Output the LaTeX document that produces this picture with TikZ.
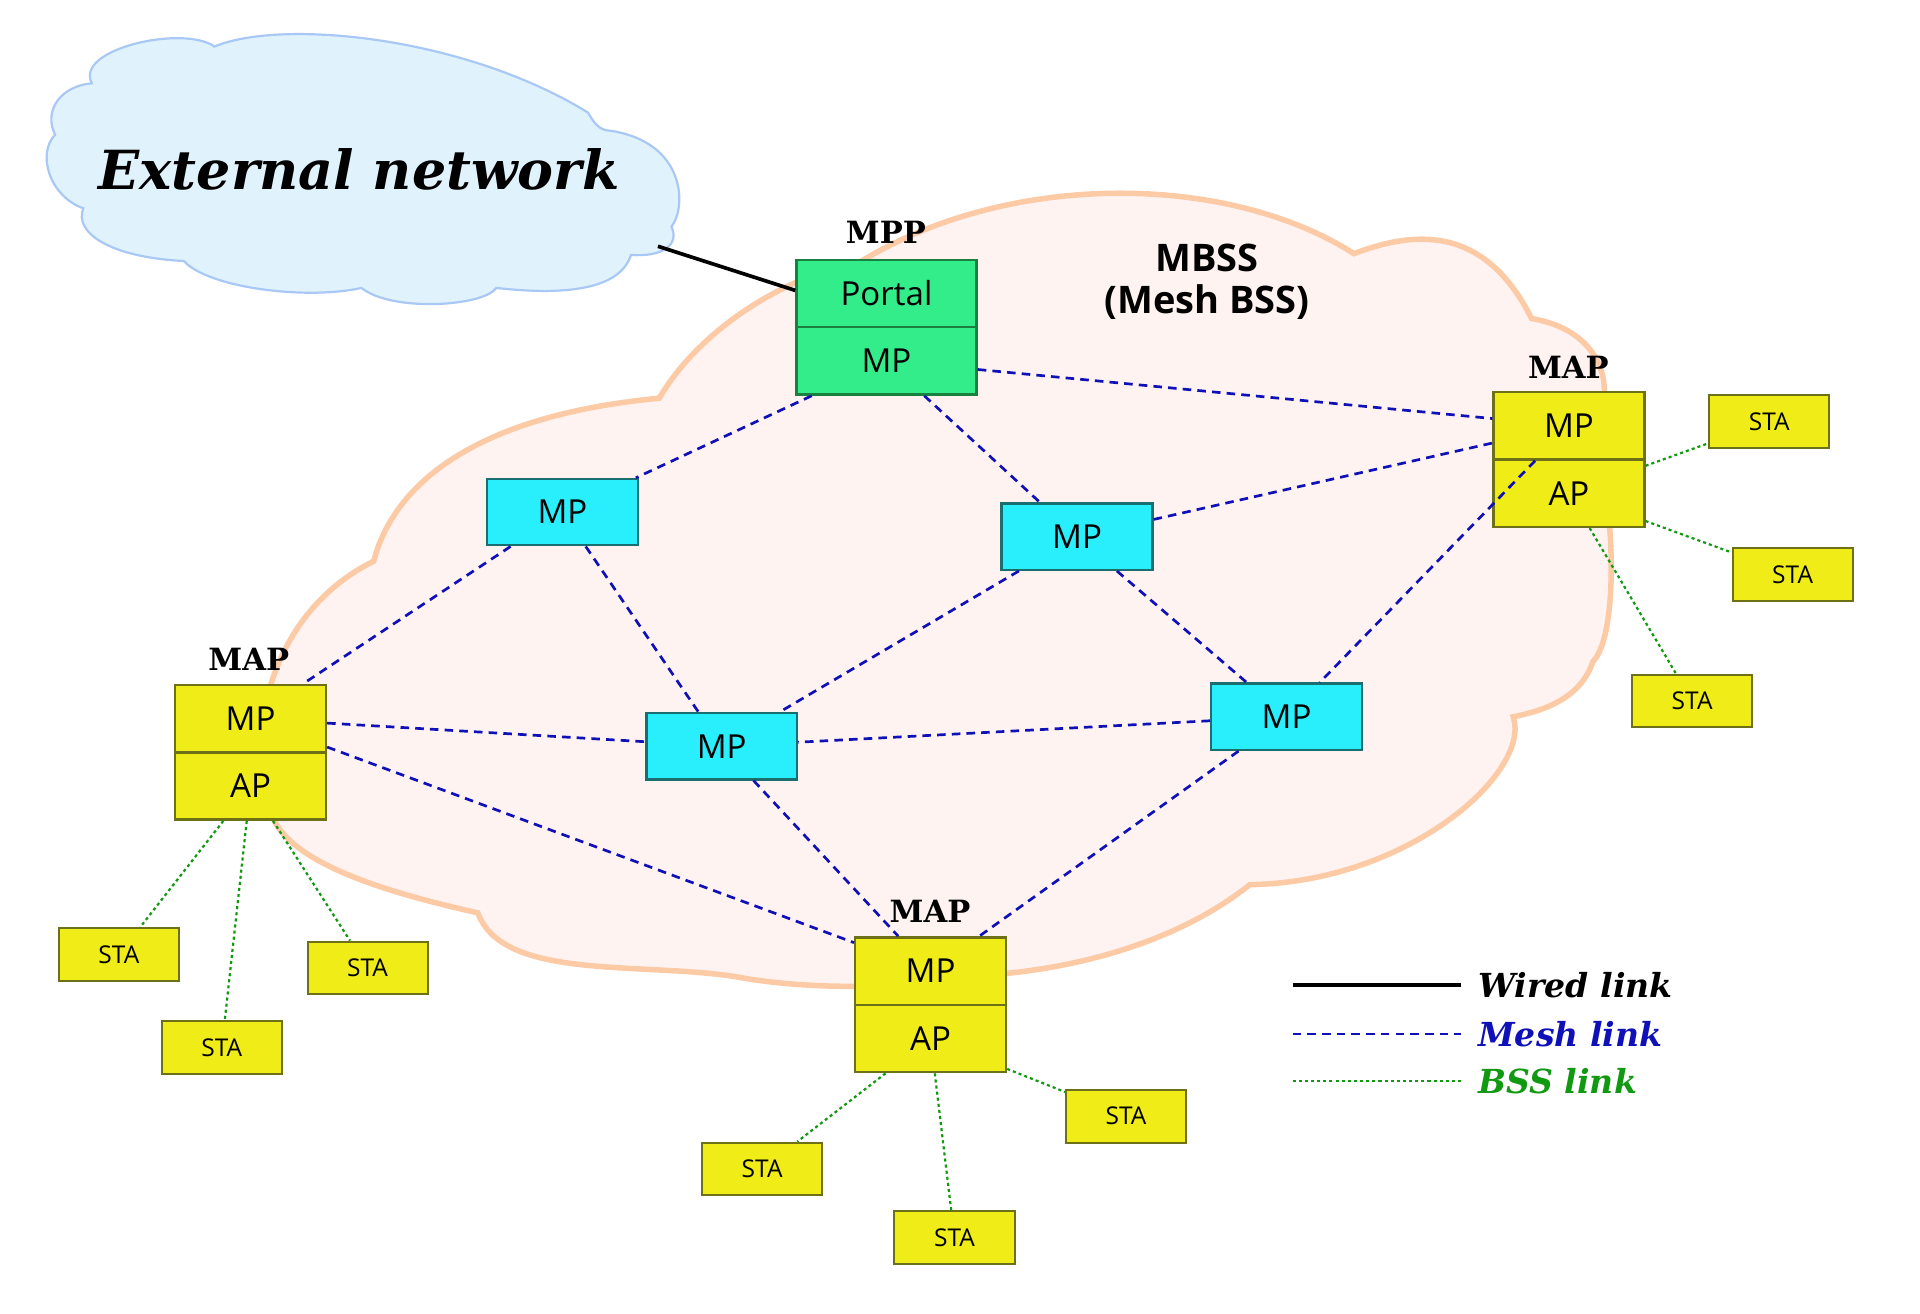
\documentclass[tikz,border=0pt]{standalone}
\usepackage{fontspec}
\setmainfont{DejaVu Serif}
\newfontfamily\boxfont{Open Sans}
\definecolor{cloudfill}{HTML}{E0F3FC}
\definecolor{cloudline}{HTML}{A9C8F5}
\definecolor{meshfill}{HTML}{FFF3F2}
\definecolor{meshline}{HTML}{FDCAA6}
\definecolor{portfill}{HTML}{33EC8A}
\definecolor{portline}{HTML}{1A8040}
\definecolor{mpfill}{HTML}{29EEFC}
\definecolor{mpline}{HTML}{1A6E70}
\definecolor{mapfill}{HTML}{F0EC18}
\definecolor{mapline}{HTML}{6E7018}
\definecolor{meshblue}{HTML}{1010B8}
\definecolor{bssgreen}{HTML}{119911}
\begin{document}
\begin{tikzpicture}[x=1pt,y=-1pt,
  box/.style={draw,line width=2pt,minimum width=123pt,minimum height=55pt,inner sep=0pt,font=\boxfont\fontsize{27}{27}\selectfont},
  por/.style={box,fill=portfill,draw=portline,minimum width=147pt},
  mp/.style={box,fill=mpfill,draw=mpline,minimum height=54pt},
  map/.style={box,fill=mapfill,draw=mapline},
  sta/.style={draw=mapline,fill=mapfill,line width=1.6pt,minimum width=98pt,minimum height=43pt,inner sep=0pt,font=\boxfont\fontsize{20}{20}\selectfont},
  lab/.style={font=\bfseries\fontsize{25}{25}\selectfont},
  mesh/.style={draw=meshblue,line width=2.2pt,dash pattern=on 7pt off 5pt},
  bss/.style={draw=bssgreen,line width=1.8pt,dash pattern=on 2.5pt off 2.5pt},
  leg/.style={font=\bfseries\itshape\fontsize{27}{27}\selectfont,anchor=west}]
\useasboundingbox (0,0) rectangle (1567,1072);
% mesh cloud
\draw[fill=meshfill,draw=meshline,line width=4.5pt]
 (538,325) .. controls (570,270) and (640,225) .. (700,215)
 .. controls (820,140) and (1000,140) .. (1105,207)
 .. controls (1150,190) and (1210,180) .. (1250,260)
 .. controls (1310,270) and (1320,320) .. (1300,350)
 .. controls (1320,420) and (1320,520) .. (1300,540)
 .. controls (1290,570) and (1260,580) .. (1235,585)
 .. controls (1250,630) and (1150,720) .. (1020,722)
 .. controls (960,770) and (870,795) .. (780,797)
 .. controls (720,810) and (640,805) .. (600,797)
 .. controls (520,785) and (410,800) .. (390,745)
 .. controls (300,725) and (230,700) .. (220,660)
 .. controls (200,600) and (220,500) .. (305,458)
 .. controls (320,400) and (380,340) .. (538,325) -- cycle;
% external cloud
\draw[fill=cloudfill,draw=cloudline,line width=1.8pt]
 (75,68) .. controls (60,40) and (150,20) .. (175,38)
 .. controls (230,15) and (380,30) .. (480,92)
 .. controls (490,110) and (495,105) .. (505,108)
 .. controls (560,120) and (560,170) .. (548,185)
 .. controls (555,200) and (540,210) .. (515,208)
 .. controls (505,240) and (450,240) .. (405,235)
 .. controls (395,250) and (320,255) .. (295,235)
 .. controls (250,245) and (170,235) .. (150,213)
 .. controls (90,210) and (60,190) .. (68,170)
 .. controls (40,160) and (30,125) .. (45,110)
 .. controls (35,90) and (50,70) .. (75,68) -- cycle;
\node[font=\bfseries\itshape\fontsize{44}{44}\selectfont] (ext) at (293,138) {External network};
\node[font=\boxfont\bfseries\fontsize{31}{34}\selectfont,align=center] (mbss) at (985,230) {MBSS\\(Mesh BSS)};
% nodes
\node[por] (portal) at (723.5,239.5) {Portal};
\node[por] (pmp) at (723.5,294.5) {MP};
\node[lab] (mpplab) at (723,190) {MPP};
\node[mp] (mp1) at (459,418) {MP};
\node[mp] (mp2) at (879,438) {MP};
\node[mp] (mp3) at (589,609) {MP};
\node[mp] (mp4) at (1050,585) {MP};
\node[map] (rmp) at (1280.5,347.5) {MP};
\node[map] (rap) at (1280.5,402.5) {AP};
\node[lab] (rlab) at (1280,300) {MAP};
\node[map] (lmp) at (204.5,586.5) {MP};
\node[map] (lap) at (204.5,641.5) {AP};
\node[lab] (llab) at (203,538) {MAP};
\node[map] (bmp) at (759.5,792.5) {MP};
\node[map] (bap) at (759.5,847.5) {AP};
\node[lab] (blab) at (759,744) {MAP};
\node[sta] (s1) at (1444,344) {STA};
\node[sta] (s2) at (1463,469) {STA};
\node[sta] (s3) at (1381,572) {STA};
\node[sta] (s4) at (97,779) {STA};
\node[sta] (s5) at (300,790) {STA};
\node[sta] (s6) at (181,855) {STA};
\node[sta] (s7) at (919,911) {STA};
\node[sta] (s8) at (622,954) {STA};
\node[sta] (s9) at (779,1010) {STA};
% wired
\coordinate (w1) at (537,201);
\draw[line width=3pt] (w1) -- (portal.west |- 0,237);
% mesh
\foreach \a/\b in {pmp/mp1,pmp/mp2,pmp/rmp,mp1/lmp,mp1/mp3,mp2/rmp,mp2/mp3,mp2/mp4,rmp/mp4,lmp/mp3,lmp/bmp,mp3/bmp,mp4/mp3,mp4/bmp}
  \draw[mesh] (\a) -- (\b);
% bss
\foreach \a/\b in {rap/s1,rap/s2,rap/s3,lap/s4,lap/s5,lap/s6,bap/s7,bap/s8,bap/s9}
  \draw[bss] (\a) -- (\b);
% legend
\coordinate (l1a) at (1055,804); \coordinate (l1b) at (1192,804);
\coordinate (l2a) at (1055,844); \coordinate (l2b) at (1192,844);
\coordinate (l3a) at (1055,882); \coordinate (l3b) at (1192,882);
\draw[line width=3pt] (l1a) -- (l1b);
\draw[mesh] (l2a) -- (l2b);
\draw[bss] (l3a) -- (l3b);
\node[leg] (t1) at (1203,804) {Wired link};
\node[leg,text=meshblue] (t2) at (1203,844) {Mesh link};
\node[leg,text=bssgreen] (t3) at (1203,882) {BSS link};
\end{tikzpicture}
\end{document}
